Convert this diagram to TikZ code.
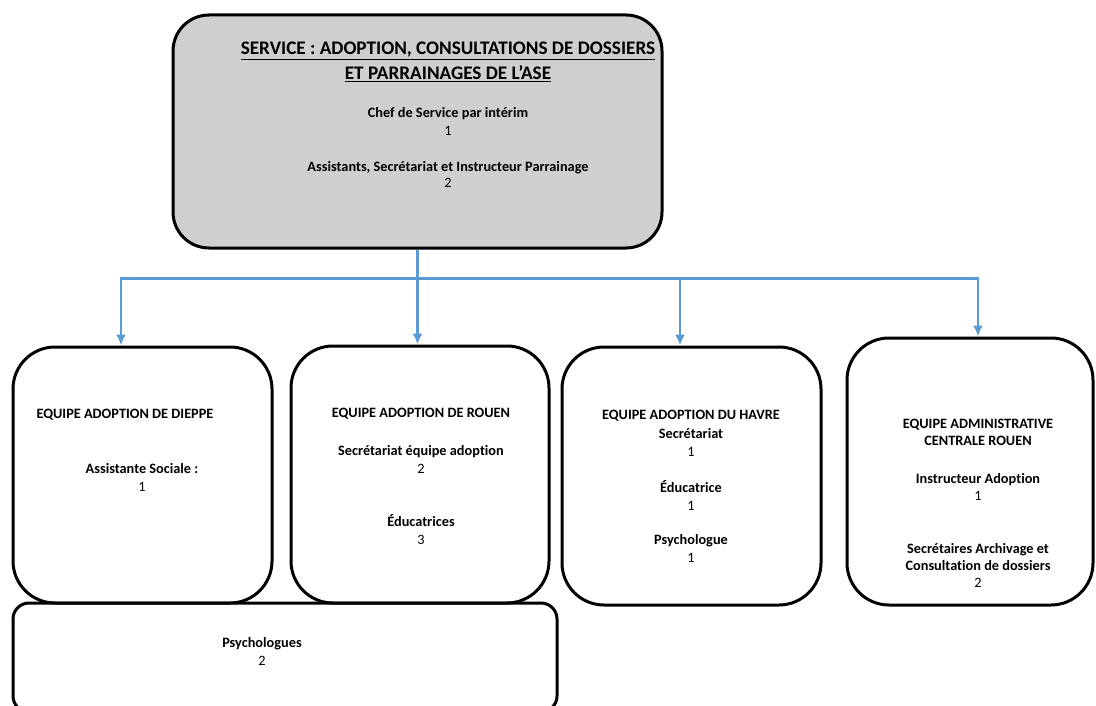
\documentclass[tikz,border=0pt]{standalone}
\usepackage{fontspec}
\setmainfont[Ligatures=NoCommon]{Carlito}
\usepackage{xcolor}
\usepackage{tikz}
\usetikzlibrary{positioning,arrows.meta}

\definecolor{grisfond}{RGB}{208,206,207}
\definecolor{bleulien}{RGB}{91,155,213}

\tikzset{
	boite/.style={draw,line width=3pt,rounded corners=42pt,inner sep=0pt},
	texte/.style={align=center,font=\fontsize{14.3}{18}\selectfont},
	fleche/.style={-{Latex[length=11pt,width=10pt]},line width=2.3pt,bleulien}
}

\begin{document}
\begin{tikzpicture}[x=1pt,y=-1pt]
	\useasboundingbox (0,0) rectangle (1096,706);
	% boites
	\node[boite,fill=grisfond,rounded corners=36pt,minimum width=489pt,minimum height=233pt] (service) at (417.5,131.5) {};
	\node[boite,minimum width=259pt,minimum height=256pt] (dieppe) at (142.5,475) {};
	\node[boite,minimum width=258pt,minimum height=257pt] (rouen) at (420,474.5) {};
	\node[boite,minimum width=259pt,minimum height=258pt] (havre) at (691.5,476) {};
	\node[boite,minimum width=246pt,minimum height=267pt] (centrale) at (970,471.5) {};
	\node[boite,rounded corners=16pt,minimum width=544pt,minimum height=109pt] (psy) at (285,657.5) {};
	% textes
	\node[texte,font=\bfseries\fontsize{19.2}{25}\selectfont] (titre) at (448,62) {\underline{SERVICE : ADOPTION, CONSULTATIONS DE DOSSIERS}\\\underline{ET PARRAINAGES DE L’ASE}};
	\node[texte] (chef) at (448,121) {\textbf{Chef de Service par intérim}\\1};
	\node[texte,font=\fontsize{14.3}{16}\selectfont] (assist) at (448,174) {\textbf{Assistants, Secrétariat et Instructeur Parrainage}\\2};
	\node[texte] (tdieppe) at (125,415) {\textbf{EQUIPE ADOPTION DE DIEPPE}};
	\node[texte] (sociale) at (142,477) {\textbf{Assistante Sociale :}\\1};
	\node[texte] (trouen) at (421,414) {\textbf{EQUIPE ADOPTION DE ROUEN}};
	\node[texte] (secrouen) at (421,459) {\textbf{Secrétariat équipe adoption}\\2};
	\node[texte] (educ) at (421,530) {\textbf{Éducatrices}\\3};
	\node[texte] (thavre) at (691,416) {\textbf{EQUIPE ADOPTION DU HAVRE}};
	\node[texte] (sechavre) at (691,442) {\textbf{Secrétariat}\\1};
	\node[texte] (educhavre) at (691,495) {\textbf{Éducatrice}\\1};
	\node[texte] (psyhavre) at (691,548) {\textbf{Psychologue}\\1};
	\node[texte,font=\bfseries\fontsize{14.3}{17}\selectfont] (tcentrale) at (978,432.5) {EQUIPE ADMINISTRATIVE\\CENTRALE ROUEN};
	\node[texte,font=\fontsize{14.3}{17}\selectfont] (instr) at (978,486.5) {\textbf{Instructeur Adoption}\\1};
	\node[texte,font=\fontsize{14.3}{17}\selectfont] (archiv) at (978,565) {\textbf{Secrétaires Archivage et}\\\textbf{Consultation de dossiers}\\2};
	\node[texte] (tpsy) at (262,651) {\textbf{Psychologues}\\2};
	% liens
	\draw[fleche] (service.south) -- ++(0,29) -| ([xshift=-21.5pt]dieppe.north);
	\draw[fleche] (service.south) -- ([xshift=-2.5pt]rouen.north);
	\draw[fleche] (service.south) -- ++(0,29) -| ([xshift=-11.5pt]havre.north);
	\draw[fleche] (service.south) -- ++(0,29) -| ([xshift=8pt]centrale.north);
\end{tikzpicture}
\end{document}
